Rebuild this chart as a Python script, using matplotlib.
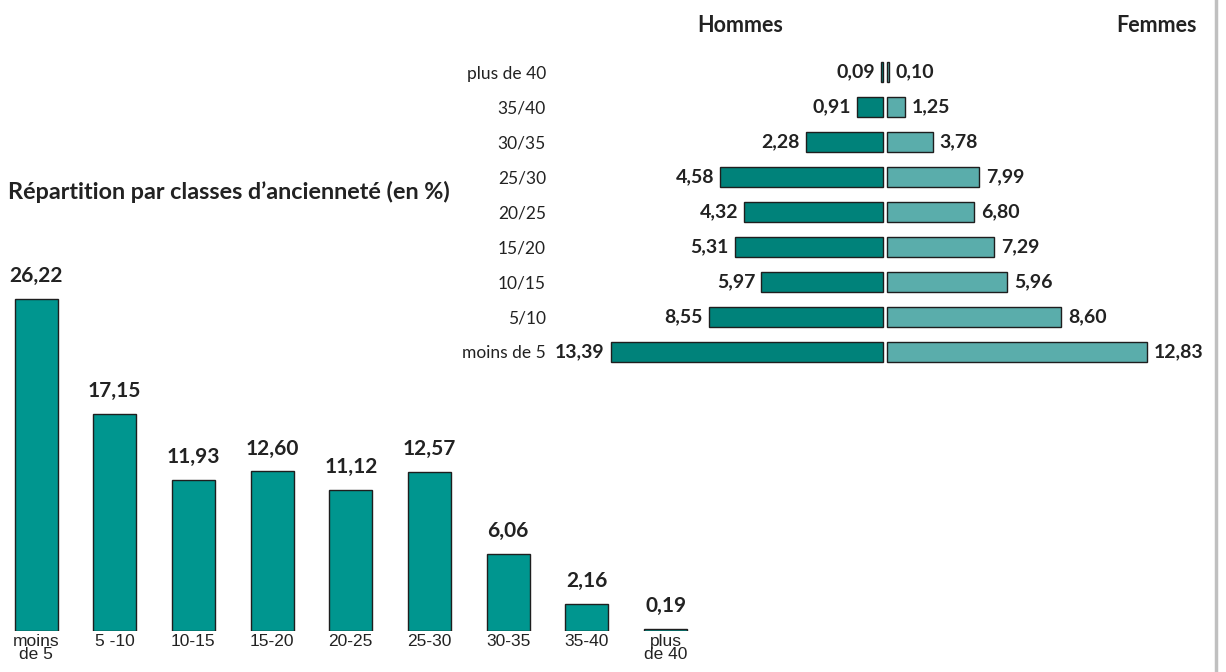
import matplotlib
matplotlib.use("Agg")
import matplotlib.pyplot as plt

# ---------------- data ----------------
# Left chart: distribution by seniority class (%)
classes = ["moins\nde 5", "5 -10", "10-15", "15-20", "20-25", "25-30", "30-35", "35-40", "plus\nde 40"]
totals = [26.22, 17.15, 11.93, 12.60, 11.12, 12.57, 6.06, 2.16, 0.19]
total_labels = ["26,22", "17,15", "11,93", "12,60", "11,12", "12,57", "6,06", "2,16", "0,19"]

# Right chart: pyramid (bottom to top)
rows = ["moins de 5", "5/10", "10/15", "15/20", "20/25", "25/30", "30/35", "35/40", "plus de 40"]
# bar lengths as drawn in the picture
hommes_bars = [13.39, 8.55, 5.97, 7.29, 6.80, 7.99, 3.78, 1.25, 0.09]
femmes_bars = [12.83, 8.60, 5.96, 5.31, 4.32, 4.58, 2.28, 0.91, 0.10]
# printed labels
hommes_labels = ["13,39", "8,55", "5,97", "5,31", "4,32", "4,58", "2,28", "0,91", "0,09"]
femmes_labels = ["12,83", "8,60", "5,96", "7,29", "6,80", "7,99", "3,78", "1,25", "0,10"]

title = "Répartition par classes d\u2019ancienneté (en %)"

# ---------------- styling ----------------
W, H = 1226, 672
fig = plt.figure(figsize=(W / 100, H / 100), dpi=100)
fig.patch.set_facecolor("white")


def px_axes(x0, y0, x1, y1):
    """axes from pixel box (top-left origin)"""
    return fig.add_axes([x0 / W, 1 - y1 / H, (x1 - x0) / W, (y1 - y0) / H])


BAR_C = "#00968f"
H_C = "#00827a"
F_C = "#5aadab"
EDGE = "#1e1e1e"

# ---------------- left bar chart ----------------
step = 78.7
axL = px_axes(0, 260, 708, 631)
axL.set_xlim(-36 / step, (708 - 36) / step)
axL.set_ylim(0, 371 / 12.66)
x = list(range(len(classes)))
axL.bar(x, totals, width=43 / step, color=BAR_C, edgecolor=EDGE, linewidth=1.0)
for xi, v, lab in zip(x, totals, total_labels):
    axL.annotate(lab, (xi, v), xytext=(0, 13), textcoords="offset pixels",
                 ha="center", va="bottom", fontsize=15, fontweight="bold",
                 family="Lato", color="#222222")
axL.set_xticks(x)
axL.set_xticklabels(classes, fontsize=12.5, family="Liberation Sans", color="#222222",
                    linespacing=0.85)
axL.tick_params(axis="x", length=0, pad=2)
axL.set_yticks([])
for s in axL.spines.values():
    s.set_visible(False)
axL.patch.set_alpha(0)

fig.text(8 / W, 1 - 192 / H, title, ha="left", va="center", fontsize=16.8,
         fontweight="bold", family="Lato", color="#222222")

# ---------------- right pyramid ----------------
scale = 20.3
cx = 884.5
axR = px_axes(560, 50, 1210, 375)
axR.set_xlim((560 - cx) / scale, (1210 - cx) / scale)
axR.set_ylim(-(375 - 352) / 35, 8 + (72 - 50) / 35)
g = 2 / scale
y = list(range(len(rows)))
axR.barh(y, [-v for v in hommes_bars], left=-g, height=20 / 35, color=H_C,
         edgecolor=EDGE, linewidth=1.0)
axR.barh(y, femmes_bars, left=g, height=20 / 35, color=F_C,
         edgecolor=EDGE, linewidth=1.0)
for yi, v, lab in zip(y, hommes_bars, hommes_labels):
    axR.annotate(lab, (-g - v, yi), xytext=(-6, 0), textcoords="offset pixels",
                 ha="right", va="center", fontsize=14, fontweight="bold",
                 family="Lato", color="#222222")
for yi, v, lab in zip(y, femmes_bars, femmes_labels):
    axR.annotate(lab, (g + v, yi), xytext=(7, 0), textcoords="offset pixels",
                 ha="left", va="center", fontsize=14, fontweight="bold",
                 family="Lato", color="#222222")
axR.set_yticks(y)
axR.set_yticklabels(rows, fontsize=12.5, family="Lato", color="#222222")
axR.tick_params(axis="y", length=0, pad=(560 - 546) / 1.389)
axR.set_xticks([])
for s in axR.spines.values():
    s.set_visible(False)
axR.patch.set_alpha(0)

fig.text(740 / W, 1 - 25 / H, "Hommes", ha="center", va="center", fontsize=15.5,
         fontweight="bold", family="Lato", color="#222222")
fig.text(1157 / W, 1 - 25 / H, "Femmes", ha="center", va="center", fontsize=15.5,
         fontweight="bold", family="Lato", color="#222222")

# right gray border line
fig.add_artist(plt.Line2D([1216 / W, 1216 / W], [0, 1], color="#c0c0c0", linewidth=2.5,
                          transform=fig.transFigure))

fig.savefig("out.png", dpi=100)
